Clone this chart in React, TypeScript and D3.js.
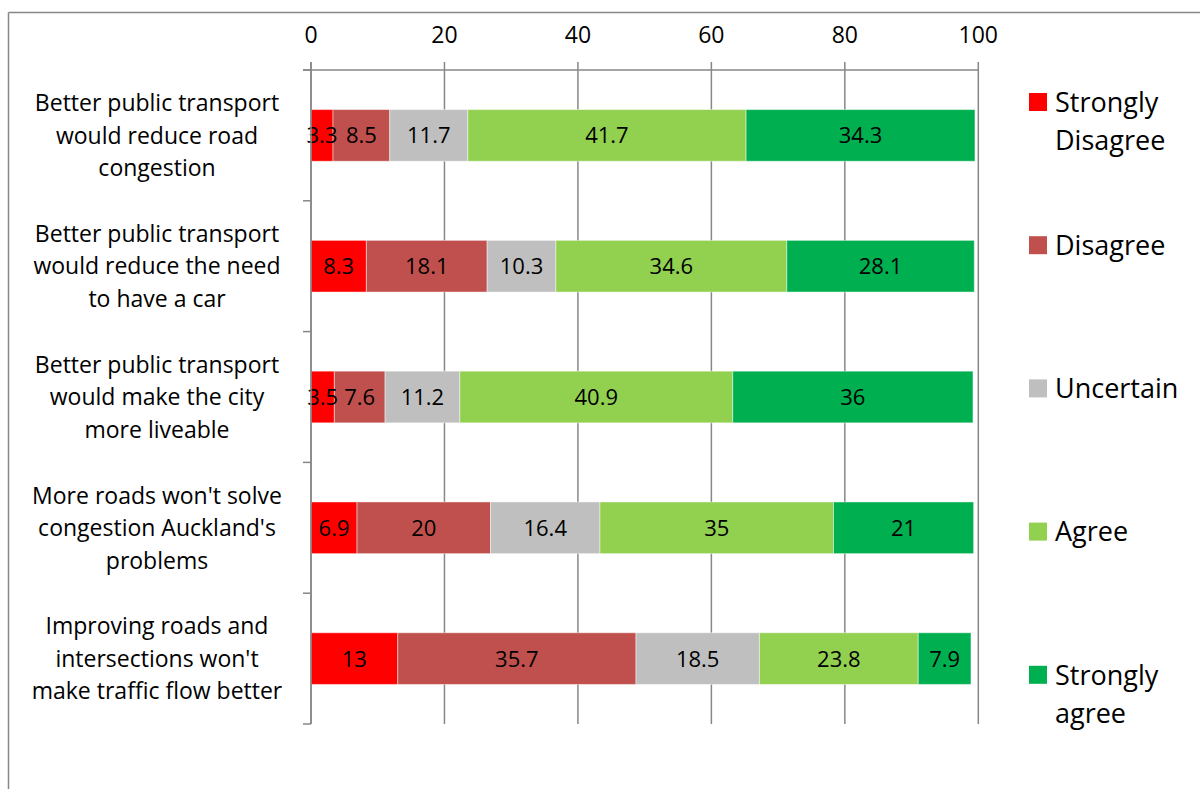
import React from "react";
import * as d3 from "d3";

const categories: string[][] = [
  ["Better public transport", "would reduce road", "congestion"],
  ["Better public transport", "would reduce the need", "to have a car"],
  ["Better public transport", "would make the city", "more liveable"],
  ["More roads won't solve", "congestion Auckland's", "problems"],
  ["Improving roads and", "intersections won't", "make traffic flow better"],
];

const seriesNames: string[][] = [
  ["Strongly", "Disagree"],
  ["Disagree"],
  ["Uncertain"],
  ["Agree"],
  ["Strongly", "agree"],
];

const seriesColors = ["#FF0000", "#C0504D", "#BFBFBF", "#92D050", "#00B050"];

const stronglyDisagree = [3.3, 8.3, 3.5, 6.9, 13];
const disagree = [8.5, 18.1, 7.6, 20, 35.7];
const uncertain = [11.7, 10.3, 11.2, 16.4, 18.5];
const agree = [41.7, 34.6, 40.9, 35, 23.8];
const stronglyAgree = [34.3, 28.1, 36, 21, 7.9];

const xTicks = [0, 20, 40, 60, 80, 100];

const W = 1200;
const H = 789;
const FONT = "'Open Sans', sans-serif";
const GRID = "#878787";

export default function App() {
  const series = [stronglyDisagree, disagree, uncertain, agree, stronglyAgree];
  const x = d3.scaleLinear().domain([0, 100]).range([311, 978.3]);
  const y = d3
    .scaleBand<number>()
    .domain(d3.range(categories.length))
    .range([70, 724])
    .paddingInner(0.605)
    .paddingOuter(0.3025);
  const bandStep = y.step();
  const boundaries = d3.range(categories.length + 1).map((i) => 70 + i * bandStep);

  const rows = categories.map((_, ci) => {
    let acc = 0;
    return series.map((s, si) => {
      const v = s[ci];
      const seg = { x0: acc, x1: acc + v, v, si };
      acc += v;
      return seg;
    });
  });

  const legendY = (i: number) => 102 + i * 143.2;

  return (
    <svg
      width={W}
      height={H}
      style={{ position: "absolute", left: 0, top: 0, background: "#fff" }}
      fontFamily={FONT}
    >
      <rect x={0} y={0} width={W} height={H} fill="#fff" />
      {/* frame */}
      <line x1={8.5} y1={12.5} x2={W} y2={12.5} stroke={GRID} strokeWidth={1.5} />
      <line x1={8.5} y1={12.5} x2={8.5} y2={H} stroke={GRID} strokeWidth={1.5} />

      {/* gridlines */}
      {xTicks.map((t) => (
        <line key={"g" + t} x1={x(t)} x2={x(t)} y1={62} y2={724} stroke={GRID} strokeWidth={1.5} />
      ))}
      {/* top axis */}
      <line x1={303} x2={x(100)} y1={70} y2={70} stroke={GRID} strokeWidth={1.5} />
      {xTicks.map((t) => (
        <text key={"t" + t} x={x(t)} y={43} textAnchor="middle" fontSize={23} fill="#000">
          {t}
        </text>
      ))}
      {/* left axis ticks */}
      {boundaries.map((b, i) => (
        <line key={"b" + i} x1={303} x2={311} y1={b} y2={b} stroke={GRID} strokeWidth={1.5} />
      ))}

      {/* bars */}
      {rows.map((segs, ci) => (
        <g key={"r" + ci}>
          {segs.map((s) => (
            <rect
              key={s.si}
              x={x(s.x0)}
              y={y(ci)!}
              width={x(s.x1) - x(s.x0)}
              height={y.bandwidth()}
              fill={seriesColors[s.si]}
              stroke="#ffffff"
              strokeOpacity={0.45}
              strokeWidth={1}
            />
          ))}
          {segs.map((s) => (
            <text
              key={"l" + s.si}
              x={(x(s.x0) + x(s.x1)) / 2}
              y={y(ci)! + y.bandwidth() / 2}
              dy="0.36em"
              textAnchor="middle"
              fontSize={22}
              fill="#000"
            >
              {s.v}
            </text>
          ))}
        </g>
      ))}
      {/* left axis line */}
      <line x1={311} x2={311} y1={62} y2={724} stroke={GRID} strokeWidth={1.5} />

      {/* category labels */}
      {categories.map((lines, ci) => {
        const cy = y(ci)! + y.bandwidth() / 2;
        return (
          <text key={"c" + ci} textAnchor="middle" fontSize={23} fill="#000">
            {lines.map((ln, li) => (
              <tspan key={li} x={157} y={cy + (li - 1) * 32.5} dy="0.36em">
                {ln}
              </tspan>
            ))}
          </text>
        );
      })}

      {/* legend */}
      {seriesNames.map((name, i) => (
        <g key={"lg" + i}>
          <rect x={1029} y={legendY(i) - 9} width={18} height={18} fill={seriesColors[i]} />
          <text fontSize={27} fill="#000">
            {name.map((ln, li) => (
              <tspan key={li} x={1055} y={legendY(i) + li * 38} dy="0.36em">
                {ln}
              </tspan>
            ))}
          </text>
        </g>
      ))}
    </svg>
  );
}
